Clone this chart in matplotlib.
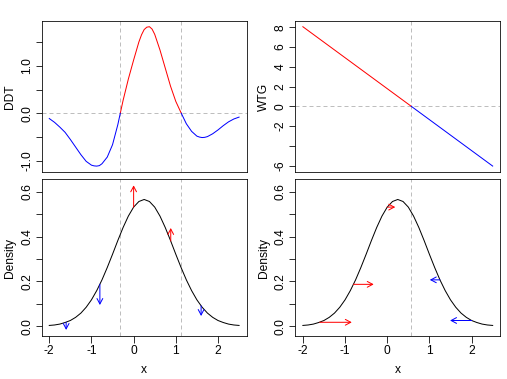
import numpy as np
import matplotlib
matplotlib.use("Agg")
import matplotlib.pyplot as plt

plt.rcParams['font.family'] = ['Liberation Sans', 'DejaVu Sans']
plt.rcParams['font.size'] = 12
plt.rcParams['axes.unicode_minus'] = False

# DDT curve
ddt_x = [-2.0, -1.875, -1.75, -1.625, -1.5, -1.375, -1.25, -1.125, -1.0, -0.9375,
         -0.875, -0.8125, -0.75, -0.625, -0.5, -0.375, -0.25, -0.125, 0.0, 0.125,
         0.1875, 0.25, 0.3125, 0.375, 0.4375, 0.5, 0.625, 0.75, 0.875, 1.0,
         1.125, 1.25, 1.375, 1.5, 1.5625, 1.625, 1.6875, 1.75, 1.875, 2.0,
         2.125, 2.25, 2.375, 2.5]
ddt = [-0.11, -0.19, -0.29, -0.40, -0.55, -0.71, -0.87, -1.01, -1.09, -1.105,
       -1.11, -1.10, -1.06, -0.92, -0.66, -0.24, 0.27, 0.72, 1.12, 1.50,
       1.65, 1.76, 1.81, 1.82, 1.77, 1.66, 1.33, 0.95, 0.57, 0.25,
       0.01, -0.22, -0.38, -0.48, -0.50, -0.51, -0.505, -0.49, -0.43, -0.35,
       -0.26, -0.18, -0.12, -0.08]
ddt_roots = [-0.32, 1.13]

# density curve (bottom panels)
dens_x = [-2.0, -1.875, -1.75, -1.625, -1.5, -1.375, -1.25, -1.125, -1.0, -0.875,
          -0.75, -0.625, -0.5, -0.375, -0.25, -0.125, 0.0, 0.125, 0.25, 0.375,
          0.5, 0.625, 0.75, 0.875, 1.0, 1.125, 1.25, 1.375, 1.5, 1.625,
          1.75, 1.875, 2.0, 2.125, 2.25, 2.375, 2.5]
density = [0.004, 0.006, 0.010, 0.017, 0.026, 0.040, 0.059, 0.085, 0.118, 0.159,
           0.207, 0.262, 0.321, 0.382, 0.440, 0.491, 0.531, 0.556, 0.565, 0.556,
           0.531, 0.491, 0.440, 0.382, 0.321, 0.262, 0.207, 0.159, 0.118, 0.085,
           0.059, 0.040, 0.026, 0.017, 0.010, 0.006, 0.004]

wtg_x = [-2.0, 2.5]
wtg = [8.06, -6.05]
wtg_root = 0.57

# vertical arrows (bottom left)
va_x = [-1.6, -0.8, 0.0, 0.88, 1.6]
va_y = [0.018, 0.187, 0.531, 0.380, 0.091]
va_dy = [-0.034, -0.092, 0.097, 0.058, -0.045]

# horizontal arrows (bottom right)
ha_x = [-1.6, -0.8, 0.0, 1.25, 2.0]
ha_y = [0.018, 0.187, 0.531, 0.207, 0.026]
ha_dx = [0.76, 0.48, 0.19, -0.24, -0.51]

GRAY = '#bebebe'
DASH = (0, (4, 3))


def signed_line(ax, x, y):
    # split the curve where it crosses zero: red above, blue below
    xs, ys = [x[0]], [y[0]]
    for i in range(1, len(x)):
        if y[i - 1] * y[i] < 0:
            t = y[i - 1] / (y[i - 1] - y[i])
            xs.append(x[i - 1] + t * (x[i] - x[i - 1]))
            ys.append(0.0)
        xs.append(x[i])
        ys.append(y[i])
    xs = np.array(xs)
    ys = np.array(ys)
    ax.plot(xs, np.where(ys >= 0, ys, np.nan), color='red', lw=1)
    ax.plot(xs, np.where(ys <= 0, ys, np.nan), color='blue', lw=1)


def style(ax, yticks, ylabels, ylim, ylabel, bottom=False):
    ax.set_xlim(-2.18, 2.68)
    ax.set_ylim(*ylim)
    for s in ax.spines.values():
        s.set_linewidth(0.8)
    ax.set_yticks(yticks)
    ax.set_yticklabels(ylabels, rotation=90, va='center')
    ax.tick_params(axis='both', length=6.5, width=0.8, pad=2)
    ax.set_ylabel(ylabel, va='baseline')
    ax.yaxis.set_label_coords(-0.139, 0.5)
    if bottom:
        ax.set_xticks([-2, -1, 0, 1, 2])
        ax.set_xticklabels(['-2', '-1', '0', '1', '2'])
        ax.tick_params(axis='x', pad=3)
        ax.set_xlabel('x', va='baseline')
        ax.xaxis.set_label_coords(0.5, -0.236)
    else:
        ax.set_xticks([])


fig = plt.figure(figsize=(507 / 72, 379 / 72), dpi=72)
ax1 = fig.add_axes([0.0822, 0.5454, 0.4043, 0.3992])
ax2 = fig.add_axes([0.5824, 0.5454, 0.4043, 0.3992])
ax3 = fig.add_axes([0.0822, 0.1135, 0.4043, 0.4135])
ax4 = fig.add_axes([0.5824, 0.1135, 0.4043, 0.4135])

# DDT
ax1.axhline(0, color=GRAY, lw=1, ls=DASH)
for r in ddt_roots:
    ax1.axvline(r, color=GRAY, lw=1, ls=DASH)
signed_line(ax1, ddt_x, ddt)
style(ax1, [-1.0, -0.5, 0.0, 0.5, 1.0, 1.5], ['-1.0', '', '0.0', '', '1.0', ''],
      (-1.24, 1.94), 'DDT')

# WTG
ax2.axhline(0, color=GRAY, lw=1, ls=DASH)
ax2.axvline(wtg_root, color=GRAY, lw=1, ls=DASH)
signed_line(ax2, wtg_x, wtg)
style(ax2, [-6, -4, -2, 0, 2, 4, 6, 8], ['-6', '', '-2', '0', '2', '4', '6', '8'],
      (-6.68, 8.64), 'WTG')

dens_ticks = [0.0, 0.1, 0.2, 0.3, 0.4, 0.5, 0.6]
dens_labels = ['0.0', '', '0.2', '', '0.4', '', '0.6']
arrow_style = '->,head_length=0.45,head_width=0.24'

# density with vertical arrows
for r in ddt_roots:
    ax3.axvline(r, color=GRAY, lw=1, ls=DASH)
ax3.plot(dens_x, density, color='black', lw=1)
for x0, y0, dy in zip(va_x, va_y, va_dy):
    c = 'red' if dy > 0 else 'blue'
    ax3.annotate('', xy=(x0, y0 + dy), xytext=(x0, y0),
                 arrowprops=dict(arrowstyle=arrow_style, color=c, lw=1,
                                 shrinkA=0, shrinkB=0))
style(ax3, dens_ticks, dens_labels, (-0.043, 0.655), 'Density', bottom=True)

# density with horizontal arrows
ax4.axvline(wtg_root, color=GRAY, lw=1, ls=DASH)
ax4.plot(dens_x, density, color='black', lw=1)
for x0, y0, dx in zip(ha_x, ha_y, ha_dx):
    c = 'red' if dx > 0 else 'blue'
    ax4.annotate('', xy=(x0 + dx, y0), xytext=(x0, y0),
                 arrowprops=dict(arrowstyle=arrow_style, color=c, lw=1,
                                 shrinkA=0, shrinkB=0))
style(ax4, dens_ticks, dens_labels, (-0.043, 0.655), 'Density', bottom=True)

fig.savefig('out.png', dpi=72)
